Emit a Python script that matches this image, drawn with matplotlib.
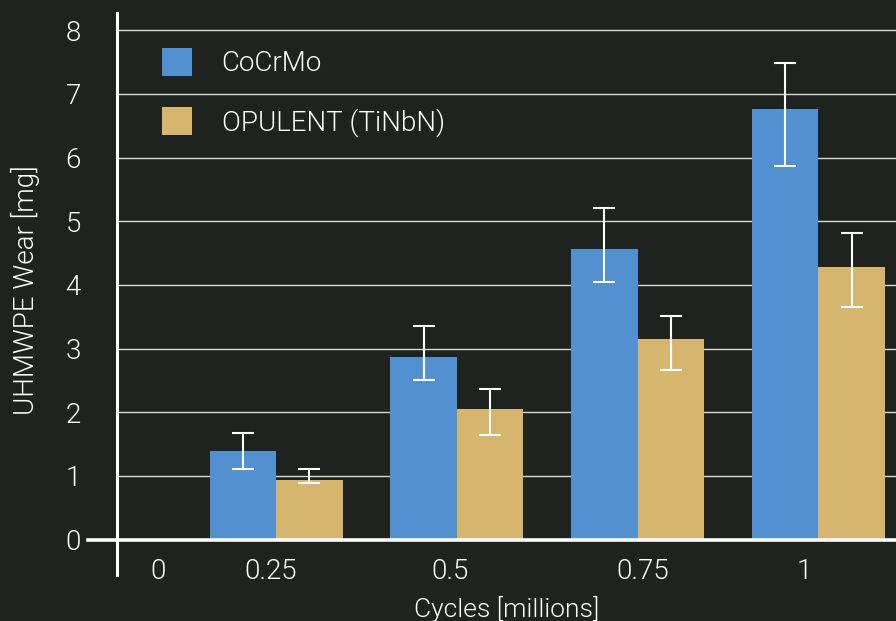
import matplotlib
matplotlib.use("Agg")
import matplotlib.pyplot as plt
import numpy as np
from matplotlib.patches import Patch

cycles = ["0", "0.25", "0.5", "0.75", "1"]
series = ["CoCrMo", "OPULENT (TiNbN)"]
cocrmo = [1.39, 2.86, 4.56, 6.76]
cocrmo_lo = [0.29, 0.35, 0.52, 0.89]
cocrmo_hi = [0.28, 0.50, 0.64, 0.73]
opulent = [0.93, 2.05, 3.15, 4.28]
opulent_lo = [0.04, 0.41, 0.49, 0.63]
opulent_hi = [0.18, 0.31, 0.36, 0.53]

BG = "#1f231f"
BLUE = "#5290cf"
TAN = "#d6b56e"
FG = "white"
FONT = ["Roboto", "DejaVu Sans"]
WEIGHT = 300

plt.rcParams["font.family"] = FONT

fig = plt.figure(figsize=(8.96, 6.21), dpi=100, facecolor=BG)
ax = fig.add_axes([117 / 896, 1 - 539.5 / 621, (896 - 117) / 896, (539.5 - 13) / 621])
ax.set_facecolor(BG)

x = np.arange(1, len(cocrmo) + 1)
w = 0.368
err_kw = dict(ecolor=FG, elinewidth=1.5, capsize=8, capthick=1.5)
ax.bar(x - w / 2, cocrmo, w, color=BLUE, yerr=[cocrmo_lo, cocrmo_hi], error_kw=err_kw, zorder=3)
ax.bar(x + w / 2, opulent, w, color=TAN, yerr=[opulent_lo, opulent_hi], error_kw=err_kw, zorder=3)

ax.set_xlim(0.12, 4.43)
ax.set_ylim(0, 8.27)

for s in ax.spines.values():
    s.set_visible(False)
ax.grid(axis="y", color="#d8d8d8", lw=1.0, zorder=1)
ax.set_axisbelow(True)

# axis lines drawn by hand so they can run past the plot box
ax.axhline(0, xmin=-0.037, xmax=1, color=FG, lw=2.6, clip_on=False, zorder=4)
ax.axvline(0.12, ymin=-0.0665, ymax=1, color=FG, lw=2.2, clip_on=False, zorder=4)

ax.set_yticks(range(0, 9))
ax.tick_params(axis="y", length=0, pad=26, labelsize=20, labelcolor=FG)
for lab in ax.get_yticklabels():
    lab.set_fontweight(WEIGHT)

tick_pos = [0.347, 0.97, 1.96, 3.03, 3.92]
ax.set_xticks(tick_pos)
ax.set_xticklabels(cycles, fontweight=WEIGHT)
ax.tick_params(axis="x", length=0, pad=13, labelsize=20, labelcolor=FG)

ax.set_xlabel("Cycles [millions]", fontsize=19, color=FG, fontweight=WEIGHT, labelpad=8)
fig.text(25 / 896, 1 - 290 / 621, "UHMWPE Wear [mg]", rotation=90, fontsize=20,
         color=FG, fontweight=WEIGHT, ha="center", va="center")

handles = [Patch(facecolor=BLUE), Patch(facecolor=TAN)]
leg = ax.legend(handles, series, loc="upper left", bbox_to_anchor=(0.044, 0.955),
                frameon=False, fontsize=20, handlelength=1.08, handleheight=1.2,
                handletextpad=1.05, labelspacing=1.05, borderaxespad=0)
for t in leg.get_texts():
    t.set_color(FG)
    t.set_fontweight(WEIGHT)

fig.savefig("out.png", dpi=100, facecolor=BG)
